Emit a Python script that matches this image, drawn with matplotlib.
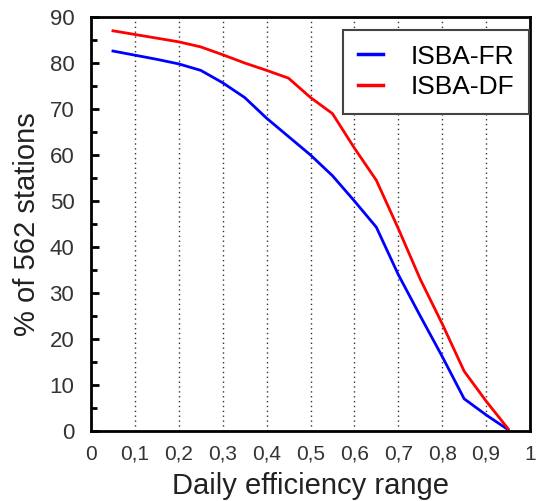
import numpy as np
import matplotlib.pyplot as plt
from matplotlib.ticker import MultipleLocator

plt.rcParams['font.family'] = ['Liberation Sans', 'DejaVu Sans']

# efficiency range thresholds
x = [0.05, 0.10, 0.15, 0.20, 0.25, 0.30, 0.35, 0.40, 0.45, 0.50,
     0.55, 0.60, 0.65, 0.70, 0.75, 0.80, 0.85, 0.90, 0.95]
isba_fr = [82.6, 81.7, 80.8, 79.8, 78.4, 75.7, 72.5, 68.0, 64.0, 60.0,
           55.5, 50.0, 44.3, 34.0, 25.0, 16.2, 7.0, 3.5, 0.3]
isba_df = [87.0, 86.2, 85.4, 84.6, 83.5, 81.8, 80.0, 78.4, 76.7, 72.5,
           69.0, 61.5, 54.5, 44.0, 33.0, 23.3, 13.0, 6.5, 0.5]

xticks = [0, 0.1, 0.2, 0.3, 0.4, 0.5, 0.6, 0.7, 0.8, 0.9, 1.0]
xticklabels = ['0', '0,1', '0,2', '0,3', '0,4', '0,5', '0,6', '0,7', '0,8', '0,9', '1']

fig = plt.figure(figsize=(5.36, 5.01), dpi=100)
ax = fig.add_axes([91 / 536, 70 / 501, 439 / 536, 414 / 501])

ax.plot(x, isba_fr, color='blue', lw=2, label='ISBA-FR')
ax.plot(x, isba_df, color='red', lw=2, label='ISBA-DF')

ax.set_xlim(0, 1)
ax.set_ylim(0, 90)
ax.set_xticks(xticks)
ax.set_xticklabels(xticklabels)
ax.yaxis.set_major_locator(MultipleLocator(10))
ax.yaxis.set_minor_locator(MultipleLocator(5))

for xv in xticks[1:-1]:
    ax.axvline(xv, color='#333333', lw=1, ls=(0, (1, 2.5)), zorder=0)

ax.tick_params(axis='x', length=0, pad=10, labelsize=15, colors='#333333')
ax.tick_params(axis='y', which='major', direction='in', length=6, width=2,
               pad=12, labelsize=16, colors='#333333')
ax.tick_params(axis='y', which='minor', direction='in', length=4, width=2)
ax.tick_params(axis='y', which='both', color='black')

for sp in ax.spines.values():
    sp.set_linewidth(2)

ax.set_xlabel('Daily efficiency range', fontsize=21, color='#222222', labelpad=6)
ax.set_ylabel('% of 562 stations', fontsize=21, color='#222222', labelpad=6)

leg = ax.legend(loc='upper right', bbox_to_anchor=(529 / 536, 1 - 30 / 501),
                bbox_transform=fig.transFigure, fontsize=19, fancybox=False,
                framealpha=1, edgecolor='#444444', handlelength=0.96,
                borderpad=0.55, handletextpad=1.05, labelspacing=0.25,
                borderaxespad=0)
leg.get_frame().set_linewidth(1.5)
for ln in leg.get_lines():
    ln.set_linewidth(2.5)

fig.savefig('out.png', dpi=100)
